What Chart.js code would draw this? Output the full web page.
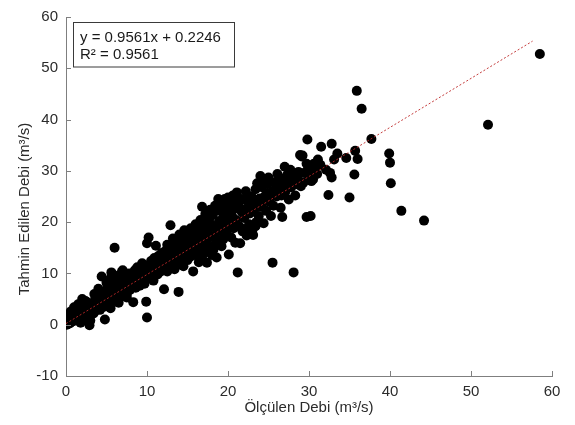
<!DOCTYPE html>
<html>
<head>
<meta charset="utf-8">
<script src="https://cdn.jsdelivr.net/npm/chart.js@4.4.0/dist/chart.umd.min.js"></script>
<style>
  html, body { margin: 0; padding: 0; background: #ffffff; }
  #c { display: block; }
</style>
</head>
<body>
<canvas id="c" width="575" height="425"></canvas>
<script>
// ---- Data ----
const xTitle = 'Ölçülen Debi (m³/s)';
const yTitle = 'Tahmin Edilen Debi (m³/s)';
const xTicks = [0, 10, 20, 30, 40, 50, 60];
const yTicks = [-10, 0, 10, 20, 30, 40, 50, 60];

// regression shown in the annotation box
const slope = 0.9561;
const intercept = 0.2246;
const rSquared = 0.9561;
const fitRange = [0, 57.6];

// measured discharge (x) and predicted discharge (y), same order
const measured = [
  0.1,0.2,0.3,0.4,0.5,0.6,0.7,0.8,0.9,1.0,
  1.1,1.2,1.3,1.4,1.5,1.6,1.7,1.8,1.9,2.0,
  2.1,2.2,2.3,2.4,2.5,2.6,2.7,2.8,2.9,3.0,
  0.3,0.6,1.0,1.5,2.0,2.4,5.5,6.5,7.5,3.0,
  3.2,3.3,3.4,3.5,3.6,3.7,3.8,3.9,4.0,4.1,
  4.2,4.3,4.4,4.5,4.6,4.7,4.8,4.9,5.0,5.1,
  5.2,5.3,5.4,5.5,5.6,5.7,5.8,5.9,6.0,6.1,
  6.2,6.3,6.4,6.5,6.6,6.7,6.8,6.9,7.0,7.1,
  7.2,7.3,7.4,7.5,7.6,7.7,7.8,7.9,8.0,8.1,
  3.5,4.0,5.0,5.5,6.0,7.0,0.5,1.2,1.8,2.6,
  8.2,8.3,8.4,8.5,8.6,8.7,8.8,8.9,9.0,9.1,
  9.2,9.3,9.4,9.5,9.6,9.7,9.8,9.9,10.0,10.0,
  10.1,10.2,10.3,10.4,10.5,10.6,10.7,10.8,10.9,11.0,
  11.1,11.2,11.3,11.4,11.5,11.6,11.7,11.8,11.9,12.0,
  12.1,12.2,12.3,12.4,12.5,12.6,12.7,12.8,12.9,13.0,
  13.1,13.2,13.3,13.4,13.5,13.6,13.7,13.8,13.9,14.0,
  14.1,14.2,14.3,14.4,14.5,14.6,14.7,14.8,14.9,15.0,
  15.1,15.2,15.3,15.4,15.5,15.6,15.7,15.8,15.9,16.0,
  16.1,16.2,16.3,16.4,16.5,16.6,16.7,16.8,16.9,17.0,
  17.1,17.2,17.3,17.4,17.5,17.6,17.7,17.8,17.9,18.0,
  18.1,18.2,18.3,18.4,18.5,18.6,18.7,18.8,18.9,19.0,
  19.1,19.2,19.3,19.4,19.5,19.6,19.7,19.8,19.9,20.0,
  20.1,20.2,20.3,20.4,20.5,20.6,20.7,20.8,20.9,21.0,
  21.1,21.2,21.3,21.4,21.5,22.1,20.9,21.7,21.8,21.9,
  22.0,22.2,22.3,22.5,22.6,22.7,22.9,23.0,23.1,23.2,
  23.4,23.5,23.7,23.8,24.0,24.1,24.2,24.4,24.5,24.7,
  24.9,25.0,25.1,25.4,25.3,25.5,25.5,25.6,25.8,26.0,
  26.2,26.2,26.4,26.5,26.6,26.7,26.9,27.1,27.3,27.5,
  27.7,27.8,28.0,28.1,28.3,28.5,28.7,28.9,29.0,29.1,
  29.2,29.3,29.4,29.7,29.7,29.8,30.0,30.2,30.3,30.3,
  30.5,30.8,31.1,31.4,30.6,31.5,32.1,32.4,32.6,32.8,
  32.8,33.1,33.5,34.6,35.0,35.6,35.7,35.9,36.0,36.5,
  37.7,39.9,40.0,40.1,41.4,44.2,52.1,58.5,29.9,31.0,
  22.8,23.3,23.9,24.3,24.8,25.9,26.3,26.8,27.2,27.6,
  28.2,28.6,23.6,24.6,21.4,26.1,27.0,12.5,13.2,14.0,
  14.6,15.4,16.0,16.6,17.2,17.8,18.4,19.0,20.0,16.8,
  17.6,18.2,19.4,22.0,23.4
];
const predicted = [
  0.0,0.5,0.2,1.0,0.3,1.5,0.6,2.0,0.9,1.2,
  2.5,0.8,1.8,3.0,1.2,2.2,0.9,3.2,1.7,2.6,
  1.3,3.8,2.0,1.5,4.5,2.8,1.8,3.5,-0.1,2.4,
  1.8,2.6,3.4,4.0,5.0,4.6,3.2,4.3,5.3,0.8,
  3.0,4.2,2.2,3.6,5.0,2.8,4.4,3.3,5.6,3.8,
  2.9,4.8,9.4,4.1,6.3,3.5,1.0,5.2,4.5,7.0,
  3.9,5.8,4.8,7.6,10.2,5.2,6.4,4.6,15.0,8.0,
  5.6,7.0,6.0,8.6,5.2,7.4,6.5,10.3,9.0,6.2,
  7.8,6.8,9.5,5.9,8.2,7.3,10.0,6.8,8.6,7.6,
  6.0,7.0,8.2,9.0,9.6,10.6,2.2,2.9,0.4,0.9,
  9.4,4.4,8.0,10.6,7.2,9.0,11.2,8.4,9.8,7.6,
  10.4,8.8,12.0,9.2,10.8,8.0,11.5,4.5,1.4,15.9,
  9.8,17.0,11.0,9.0,12.4,10.2,11.8,8.6,13.0,10.6,
  15.4,12.0,9.8,13.4,11.2,12.6,10.4,14.0,11.8,13.0,
  6.9,11.0,14.4,12.2,10.4,13.6,12.0,14.8,19.4,11.6,
  13.2,15.2,12.4,10.8,14.2,12.8,15.6,13.4,6.4,11.8,
  14.6,16.2,13.0,15.0,11.4,14.0,16.6,13.6,15.4,12.6,
  14.6,17.0,13.2,16.0,14.2,17.8,10.4,15.2,13.6,16.8,
  18.6,14.8,16.2,12.2,17.4,15.4,19.2,23.0,16.6,14.0,
  18.0,20.0,16.2,12.1,18.8,15.2,20.8,17.4,19.6,13.6,
  21.4,17.0,19.0,15.6,22.2,13.1,18.2,24.5,20.2,16.4,
  22.8,15.3,19.4,21.6,17.6,24.5,20.6,23.2,18.4,22.0,
  13.7,19.8,24.0,17.0,21.2,25.2,18.8,22.6,16.0,20.4,
  25.8,10.2,23.4,19.2,15.9,22.4,23.6,22.0,18.2,24.4,
  20.8,26.0,17.4,23.0,19.6,21.7,25.0,18.4,17.5,22.4,
  26.4,20.0,24.2,21.2,29.0,23.0,26.8,19.8,25.0,22.2,
  27.4,28.7,24.0,25.0,21.2,12.1,26.0,23.2,27.8,25.0,
  27.7,25.5,28.6,22.8,25.2,21.0,27.0,26.0,29.2,24.4,
  30.2,26.8,28.2,10.2,25.2,27.4,29.8,33.1,27.0,32.8,
  33.0,27.7,29.6,21.0,31.4,36.1,29.0,21.2,28.0,29.6,
  28.3,30.6,32.2,31.2,31.4,34.7,30.2,25.3,29.6,28.7,
  35.3,32.2,33.4,32.5,24.8,29.3,33.9,45.6,32.3,42.1,
  36.2,33.4,31.6,27.6,22.2,20.3,39.0,52.8,30.4,29.4,
  23.8,23.6,24.6,24.0,25.6,26.4,26.2,27.6,27.4,28.0,
  29.0,28.6,27.6,27.9,24.6,29.4,30.8,15.6,16.8,17.6,
  18.4,18.8,19.6,20.4,21.6,22.4,23.2,23.8,24.8,13.0,
  14.2,14.6,16.6,18.6,19.2
];

// ---- Build chart ----
const scatterPoints = measured.map((x, i) => ({ x: x, y: predicted[i] }));
const fitPoints = fitRange.map(x => ({ x: x, y: slope * x + intercept }));

const axisColor = '#7f7f7f';
const textColor = '#2b2b2b';
const fontFamily = '"Liberation Sans", Arial, Helvetica, sans-serif';

const innerTicks = {
  id: 'innerTicks',
  afterDraw(chart) {
    const ctx = chart.ctx;
    const xs = chart.scales.x, ys = chart.scales.y;
    const area = chart.chartArea;
    ctx.save();
    ctx.strokeStyle = axisColor;
    ctx.lineWidth = 1;
    ctx.beginPath();
    xs.ticks.forEach(t => {
      const px = Math.round(xs.getPixelForValue(t.value)) + 0.5;
      ctx.moveTo(px, area.bottom);
      ctx.lineTo(px, area.bottom - 5);
    });
    ys.ticks.forEach(t => {
      const py = Math.round(ys.getPixelForValue(t.value)) + 0.5;
      ctx.moveTo(area.left, py);
      ctx.lineTo(area.left + 5, py);
    });
    ctx.stroke();
    ctx.restore();
  }
};

const fitBox = {
  id: 'fitBox',
  afterDraw(chart) {
    const ctx = chart.ctx;
    const area = chart.chartArea;
    const bx = area.left + 7.5, by = area.top + 5.5;
    ctx.save();
    ctx.fillStyle = '#ffffff';
    ctx.fillRect(bx, by, 161, 44.5);
    ctx.strokeStyle = '#3a3a3a';
    ctx.lineWidth = 1;
    ctx.strokeRect(bx, by, 161, 44.5);
    ctx.fillStyle = '#1a1a1a';
    ctx.font = '15px ' + fontFamily;
    ctx.textBaseline = 'alphabetic';
    ctx.textAlign = 'left';
    ctx.fillText('y = ' + slope.toFixed(4) + 'x + ' + intercept.toFixed(4), bx + 6.5, by + 19);
    ctx.fillText('R² = ' + rSquared.toFixed(4), bx + 6.5, by + 36.5);
    ctx.restore();
  }
};

new Chart(document.getElementById('c'), {
  type: 'scatter',
  data: {
    datasets: [
      {
        type: 'line',
        label: 'fit',
        data: fitPoints,
        borderColor: 'rgba(190,40,40,0.9)',
        borderWidth: 1,
        borderDash: [2, 2],
        pointRadius: 0,
        fill: false,
        order: 0
      },
      {
        label: 'data',
        data: scatterPoints,
        backgroundColor: '#000000',
        borderWidth: 0,
        pointRadius: 5,
        pointHoverRadius: 5,
        order: 1
      }
    ]
  },
  options: {
    responsive: false,
    animation: false,
    events: [],
    layout: { padding: { top: 9, right: 23, bottom: 0, left: 0 } },
    plugins: { legend: { display: false }, tooltip: { enabled: false } },
    scales: {
      x: {
        type: 'linear',
        min: xTicks[0],
        max: xTicks[xTicks.length - 1],
        afterBuildTicks: s => { s.ticks = xTicks.map(v => ({ value: v })); },
        afterFit: s => { s.height = 49; },
        ticks: {
          color: textColor,
          font: { size: 15, family: fontFamily },
          padding: 7,
          maxRotation: 0
        },
        grid: { display: false, drawTicks: false },
        border: { display: true, color: axisColor, width: 1 },
        title: {
          display: true,
          text: xTitle,
          color: textColor,
          font: { size: 15, family: fontFamily },
          padding: { top: 0, bottom: 8 }
        }
      },
      y: {
        type: 'linear',
        min: yTicks[0],
        max: yTicks[yTicks.length - 1],
        afterBuildTicks: s => { s.ticks = yTicks.map(v => ({ value: v })); },
        afterFit: s => { s.width = 66; },
        ticks: {
          color: textColor,
          font: { size: 15, family: fontFamily },
          padding: 8
        },
        grid: { display: false, drawTicks: false },
        border: { display: true, color: axisColor, width: 1 },
        title: {
          display: true,
          text: yTitle + '      ',
          color: textColor,
          font: { size: 15, family: fontFamily },
          padding: { top: 16, bottom: 0 }
        }
      }
    }
  },
  plugins: [innerTicks, fitBox]
});
</script>
</body>
</html>
